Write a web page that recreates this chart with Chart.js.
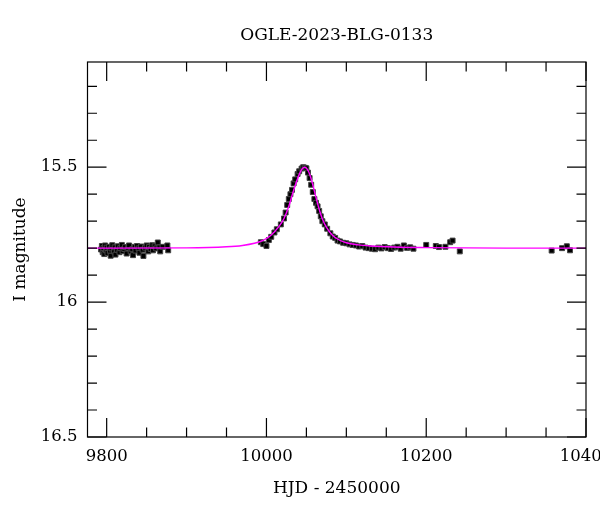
<!DOCTYPE html>
<html>
<head>
<meta charset="utf-8">
<script src="https://cdn.jsdelivr.net/npm/chart.js@4"></script>
<style>
  html, body { margin: 0; padding: 0; background: #fff; }
  #wrap { width: 600px; height: 512px; }
</style>
</head>
<body>
<div id="wrap"><canvas id="lc"></canvas></div>
<script>
const title = 'OGLE-2023-BLG-0133';

// observations (HJD - 2450000, I mag)
const hjd = [
  9793, 9794, 9795, 9796, 9797, 9798, 9799, 9800, 9801, 9803, 9804, 9805, 9806, 9807,
  9809, 9810, 9811, 9813, 9814, 9816, 9817, 9819, 9820, 9822, 9823, 9825, 9827, 9828,
  9830, 9832, 9833, 9835, 9836, 9838, 9840, 9841, 9843, 9845, 9846, 9848, 9850, 9852,
  9853, 9855, 9857, 9858, 9860, 9862, 9864, 9866, 9867, 9870, 9876, 9877,
  9993, 9996, 10000, 10003, 10006, 10010, 10013, 10018, 10022, 10024, 10026, 10028,
  10030, 10032, 10034, 10036, 10039, 10041, 10044, 10046, 10048, 10050, 10052, 10054,
  10056, 10058, 10060, 10062, 10064, 10066, 10068, 10070, 10073, 10076, 10080, 10083,
  10086, 10089, 10092, 10096, 10100, 10104, 10108, 10112, 10116, 10120, 10124, 10128,
  10132, 10136, 10140, 10144, 10148, 10152, 10156, 10160, 10164, 10168, 10172, 10176,
  10180, 10184, 10200, 10212, 10216, 10224, 10230, 10233, 10242,
  10357, 10370, 10376, 10380
];
const mag = [
  15.805, 15.792, 15.815, 15.800, 15.822, 15.790, 15.808, 15.798, 15.818, 15.795, 15.810, 15.828, 15.801, 15.789,
  15.812, 15.797, 15.824, 15.806, 15.793, 15.815, 15.800, 15.788, 15.811, 15.803, 15.796, 15.820, 15.799, 15.790,
  15.812, 15.804, 15.826, 15.795, 15.809, 15.792, 15.801, 15.817, 15.794, 15.806, 15.829, 15.798, 15.790, 15.812,
  15.796, 15.803, 15.789, 15.808, 15.793, 15.801, 15.779, 15.797, 15.812, 15.795, 15.790, 15.808,
  15.778, 15.785, 15.792, 15.770, 15.758, 15.742, 15.730, 15.712, 15.690, 15.668, 15.640, 15.618,
  15.600, 15.584, 15.560, 15.545, 15.525, 15.515, 15.505, 15.500, 15.502, 15.504, 15.520, 15.540,
  15.565, 15.592, 15.618, 15.632, 15.645, 15.662, 15.682, 15.700, 15.712, 15.728, 15.745, 15.757,
  15.762, 15.772, 15.775, 15.780, 15.782, 15.786, 15.788, 15.790, 15.794, 15.792, 15.798, 15.800,
  15.802, 15.804, 15.798, 15.801, 15.796, 15.800, 15.803, 15.798, 15.795, 15.802, 15.790, 15.799,
  15.797, 15.802, 15.788, 15.792, 15.796, 15.795, 15.778, 15.772, 15.812,
  15.809, 15.800, 15.793, 15.808
];

// fitted model curve
const modelHjd = [
  9776, 9900, 9950, 9970, 9985, 9995, 10005, 10015, 10022, 10028, 10033, 10038, 10042,
  10045, 10048, 10051, 10054, 10058, 10062, 10066, 10070, 10075, 10082, 10090, 10100,
  10115, 10130, 10160, 10200, 10300, 10400
];
const modelMag = [
  15.800, 15.799, 15.795, 15.790, 15.782, 15.772, 15.754, 15.722, 15.690, 15.645, 15.595, 15.550, 15.520,
  15.505, 15.500, 15.507, 15.525, 15.565, 15.612, 15.656, 15.692, 15.722, 15.750, 15.768, 15.780,
  15.788, 15.792, 15.796, 15.798, 15.800, 15.800
];

const serif = 'DejaVu Serif';

// inward ticks on all four sides plus the frame
const frameTicks = {
  id: 'frameTicks',
  afterDraw(chart) {
    const { ctx, chartArea: a, scales } = chart;
    ctx.save();
    ctx.strokeStyle = '#000';
    ctx.lineWidth = 1.2;
    ctx.strokeRect(a.left, a.top, a.right - a.left, a.bottom - a.top);
    ctx.beginPath();
    scales.x.ticks.forEach((t) => {
      const px = scales.x.getPixelForValue(t.value);
      const len = Math.round(t.value) % 200 === 0 ? 19 : 9.5;
      ctx.moveTo(px, a.bottom); ctx.lineTo(px, a.bottom - len);
      ctx.moveTo(px, a.top); ctx.lineTo(px, a.top + len);
    });
    scales.y.ticks.forEach((t) => {
      const py = scales.y.getPixelForValue(t.value);
      const major = Math.abs(t.value * 2 - Math.round(t.value * 2)) < 1e-6;
      const len = major ? 19 : 9.5;
      ctx.moveTo(a.left, py); ctx.lineTo(a.left + len, py);
      ctx.moveTo(a.right, py); ctx.lineTo(a.right - len, py);
    });
    ctx.stroke();
    ctx.restore();
  }
};

new Chart(document.getElementById('lc'), {
  type: 'scatter',
  data: {
    datasets: [{
      label: 'model',
      type: 'line',
      data: modelHjd.map((x, i) => ({ x, y: modelMag[i] })),
      borderColor: '#ff00ff',
      borderWidth: 1.4,
      pointRadius: 0,
      cubicInterpolationMode: 'monotone',
      order: 0,
    }, {
      label: 'OGLE',
      data: hjd.map((x, i) => ({ x, y: mag[i] })),
      pointStyle: 'rect',
      pointRadius: 3.5,
      backgroundColor: '#000',
      borderColor: '#444',
      borderWidth: 1,
      order: 1,
    }],
  },
  options: {
    responsive: true,
    maintainAspectRatio: false,
    animation: false,
    layout: { padding: { left: 0, right: 14, top: 0, bottom: 0 } },
    plugins: {
      legend: { display: false },
      tooltip: { enabled: false },
      title: {
        display: true,
        text: title,
        fullSize: false,
        color: '#000',
        font: { family: serif, size: 17, weight: 'normal' },
        padding: { top: 25, bottom: 16.6 },
      },
    },
    scales: {
      x: {
        type: 'linear',
        min: 9776,
        max: 10400,
        grid: { display: false, drawTicks: false },
        border: { display: false },
        ticks: {
          stepSize: 50,
          includeBounds: false,
          autoSkip: false,
          maxRotation: 0,
          padding: 10,
          color: '#000',
          font: { family: serif, size: 16.5 },
          callback: (v) => (Math.round(v) % 200 === 0 ? String(Math.round(v)) : ''),
        },
        title: {
          display: true,
          text: 'HJD - 2450000',
          color: '#000',
          font: { family: serif, size: 17 },
          padding: { top: 0, bottom: 13 },
        },
        afterFit: (s) => { s.height = 75; s.paddingLeft = 0; s.paddingRight = 0; },
      },
      y: {
        type: 'linear',
        reverse: true,
        min: 15.11,
        max: 16.5,
        grid: { display: false, drawTicks: false },
        border: { display: false },
        ticks: {
          stepSize: 0.1,
          includeBounds: false,
          autoSkip: false,
          padding: 10,
          color: '#000',
          font: { family: serif, size: 16.5 },
          callback: (v) => (Math.abs(v * 2 - Math.round(v * 2)) < 1e-6 ? String(+v.toFixed(1)) : ''),
        },
        title: {
          display: true,
          text: 'I magnitude',
          color: '#000',
          font: { family: serif, size: 17 },
          padding: { top: 10, bottom: 0 },
        },
        afterFit: (s) => { s.width = 87.5; s.paddingTop = 0; s.paddingBottom = 0; },
      },
    },
  },
  plugins: [frameTicks],
});
</script>
</body>
</html>
